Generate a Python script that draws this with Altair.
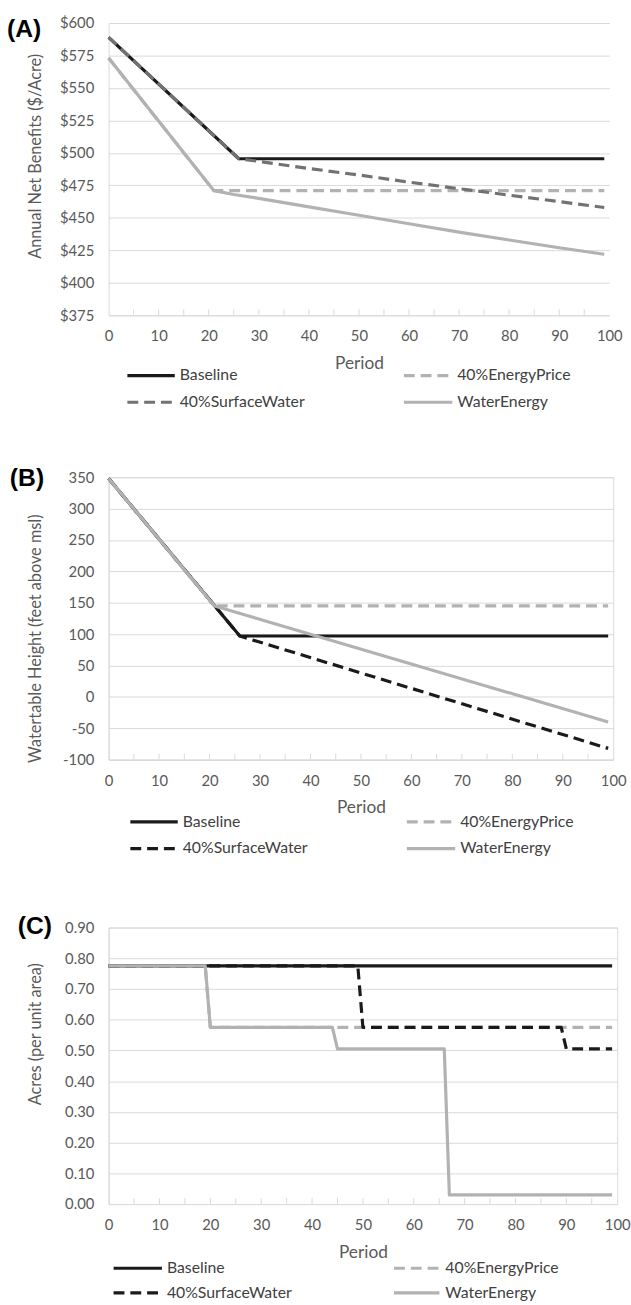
import altair as alt
import pandas as pd

FONT = "Lato"
GRID = "#d9d9d9"
TXT = "#595959"
BLACK = "#1a1a1a"
DARKGRAY = "#727272"
LIGHTGRAY = "#b2b2b2"
DASH = [11, 6]
LW = 3.2

series_names = ["Baseline", "40%EnergyPrice", "40%SurfaceWater", "WaterEnergy"]

# ---------------- Panel A: Annual Net Benefits ($/Acre)
a_baseline_period = [0, 26, 99]
a_baseline_value = [589, 495.5, 495.5]
a_energy_period = [0, 21, 99]
a_energy_value = [573, 471, 471]
a_surface_period = [0, 26, 30, 40, 50, 60, 70, 80, 90, 99]
a_surface_value = [589, 495.5, 493.5, 488, 483, 477.5, 472.5, 467.5, 462.5, 458]
a_waterenergy_period = [0, 21, 25, 30, 40, 50, 60, 70, 80, 90, 99]
a_waterenergy_value = [573, 471, 468, 465, 458.5, 452, 445.5, 439, 433, 427, 422]

# ---------------- Panel B: Watertable Height (feet above msl)
b_baseline_period = [0, 26, 99]
b_baseline_value = [348, 97, 97]
b_energy_period = [0, 21, 99]
b_energy_value = [348, 145, 145]
b_surface_period = [0, 26, 99]
b_surface_value = [348, 97, -82]
b_waterenergy_period = [0, 21, 99]
b_waterenergy_value = [348, 145, -40]

# ---------------- Panel C: Acres (per unit area)
c_baseline_period = [0, 99]
c_baseline_value = [0.775, 0.775]
c_energy_period = [0, 19, 20, 99]
c_energy_value = [0.775, 0.775, 0.575, 0.575]
c_surface_period = [0, 49, 50, 89, 90, 99]
c_surface_value = [0.775, 0.775, 0.575, 0.575, 0.505, 0.505]
c_waterenergy_period = [0, 19, 20, 44, 45, 66, 67, 99]
c_waterenergy_value = [0.775, 0.775, 0.575, 0.575, 0.505, 0.505, 0.03, 0.03]

# ---------------- axis ticks
x_tick_labels = [0, 10, 20, 30, 40, 50, 60, 70, 80, 90, 100]
x_minor_ticks = [5, 10, 15, 20, 25, 30, 35, 40, 45, 50, 55, 60, 65, 70, 75, 80, 85, 90, 95]
a_y_ticks = [375, 400, 425, 450, 475, 500, 525, 550, 575, 600]
b_y_ticks = [-100, -50, 0, 50, 100, 150, 200, 250, 300, 350]
c_y_ticks = [0.0, 0.1, 0.2, 0.3, 0.4, 0.5, 0.6, 0.7, 0.8, 0.9]

one = pd.DataFrame({"k": [0]})


def make_panel(cfg):
    W, H = cfg["w"], cfg["h"]
    xs = alt.Scale(domain=[0, 100], nice=False, zero=False)
    ys = alt.Scale(domain=cfg["ydom"], nice=False, zero=False)
    xax = alt.Axis(values=x_tick_labels, title="Period", grid=False, ticks=False,
                   labelPadding=14, titleY=49, titleBaseline="middle",
                   domainColor=GRID, labelFont=FONT, labelFontSize=15, labelColor=TXT,
                   titleFont=FONT, titleFontSize=17.5, titleFontWeight="normal", titleColor=TXT,
                   labelFlush=False)
    yax = alt.Axis(values=cfg["yticks"], title=cfg["ytitle"], grid=True, gridColor=GRID,
                   ticks=False, domainColor=GRID, labelPadding=15,
                   titleX=-74, titleY=cfg["title_y"], titleAngle=270, titleAlign="center",
                   titleBaseline="middle", labelFont=FONT, labelFontSize=15, labelColor=TXT,
                   titleFont=FONT, titleFontSize=16.5, titleFontWeight="normal", titleColor=TXT,
                   **cfg["ylab"])
    X = alt.X("period:Q", scale=xs, axis=xax)
    Y = alt.Y("value:Q", scale=ys, axis=yax)

    layers = []
    # series lines (draw order = legend order)
    for name, per, val, color, dashed in cfg["series"]:
        df = pd.DataFrame({"period": per, "value": val, "series": name})
        kw = dict(color=color, strokeWidth=LW, strokeJoin="round")
        if dashed:
            kw["strokeDash"] = DASH
        layers.append(alt.Chart(df).mark_line(**kw).encode(x=X, y=Y))
    # inside minor ticks on x axis
    tickdf = pd.DataFrame({"period": x_minor_ticks})
    layers.append(alt.Chart(tickdf).mark_rule(color=GRID, strokeWidth=1).encode(
        x=X, y=alt.value(H - 6), y2=alt.value(H)))
    # panel label
    lx, ly = cfg["label_pos"]
    layers.append(alt.Chart(one).mark_text(
        font="Liberation Sans", fontSize=25, fontWeight="bold", color="#000000",
        align="left", baseline="middle").encode(
        x=alt.value(lx), y=alt.value(ly), text=alt.value(cfg["label"])))
    # legend (2 x 2)
    lg = cfg["legend"]
    for i, (name, per, val, color, dashed) in enumerate(cfg["series"]):
        col, row = i % 2, i // 2
        x0, x1, xt = lg["cols"][col]
        yy = lg["rows"][row]
        kw = dict(color=color, strokeWidth=LW)
        if dashed:
            kw["strokeDash"] = DASH
        layers.append(alt.Chart(one).mark_rule(**kw).encode(
            x=alt.value(x0), x2=alt.value(x1), y=alt.value(yy)))
        layers.append(alt.Chart(one).mark_text(
            font=FONT, fontSize=16, color="#404040", align="left", baseline="middle").encode(
            x=alt.value(xt), y=alt.value(yy), text=alt.value(name)))
    # invisible spacer fixing this cell's extent
    sx, sy0, sy1 = cfg["spacer"]
    layers.append(alt.Chart(one).mark_rule(opacity=0, strokeWidth=0).encode(
        x=alt.value(sx), y=alt.value(sy0), y2=alt.value(sy1)))

    return alt.layer(*layers).properties(
        width=W, height=H,
        view=alt.ViewBackground(stroke=cfg["stroke"], strokeWidth=1))


panel_a = make_panel(dict(
    w=507, h=296, ydom=[375, 600], yticks=a_y_ticks,
    ytitle="Annual Net Benefits ($/Acre)", title_y=134.5,
    ylab=dict(labelExpr="'$' + datum.value"),
    series=[
        (series_names[0], a_baseline_period, a_baseline_value, BLACK, False),
        (series_names[1], a_energy_period, a_energy_value, LIGHTGRAY, True),
        (series_names[2], a_surface_period, a_surface_value, DARKGRAY, True),
        (series_names[3], a_waterenergy_period, a_waterenergy_value, LIGHTGRAY, False),
    ],
    label="(A)", label_pos=(-103, 6.5),
    legend=dict(cols=[(19, 67, 72), (299, 348, 353)], rows=[357, 384]),
    spacer=(-109, -14, 418), stroke="transparent",
))

panel_b = make_panel(dict(
    w=511, h=286, ydom=[-100, 350], yticks=b_y_ticks,
    ytitle="Watertable Height (feet above msl)", title_y=163,
    ylab=dict(labelExpr="'' + datum.value"),
    series=[
        (series_names[0], b_baseline_period, b_baseline_value, BLACK, False),
        (series_names[1], b_energy_period, b_energy_value, LIGHTGRAY, True),
        (series_names[2], b_surface_period, b_surface_value, BLACK, True),
        (series_names[3], b_waterenergy_period, b_waterenergy_value, LIGHTGRAY, False),
    ],
    label="(B)", label_pos=(-100, 1),
    legend=dict(cols=[(22, 70, 75), (302, 351, 356)], rows=[349, 376]),
    spacer=(-106, -40, 413), stroke=GRID,
))

panel_c = make_panel(dict(
    w=515, h=280, ydom=[0, 0.9], yticks=c_y_ticks,
    ytitle="Acres (per unit area)", title_y=107.5,
    ylab=dict(format=".2f"),
    series=[
        (series_names[0], c_baseline_period, c_baseline_value, BLACK, False),
        (series_names[1], c_energy_period, c_energy_value, LIGHTGRAY, True),
        (series_names[2], c_surface_period, c_surface_value, BLACK, True),
        (series_names[3], c_waterenergy_period, c_waterenergy_value, LIGHTGRAY, False),
    ],
    label="(C)", label_pos=(-92, -1),
    legend=dict(cols=[(5, 54, 59), (289, 335, 341)], rows=[345, 370]),
    spacer=(-98, -41, 379), stroke=GRID,
))

chart = alt.vconcat(panel_a, panel_b, panel_c, spacing=0).properties(
    padding={"left": 0, "top": 0, "right": 0, "bottom": 0},
    background="white",
)

chart.save("out.html", embed_options={"renderer": "svg", "actions": False})
